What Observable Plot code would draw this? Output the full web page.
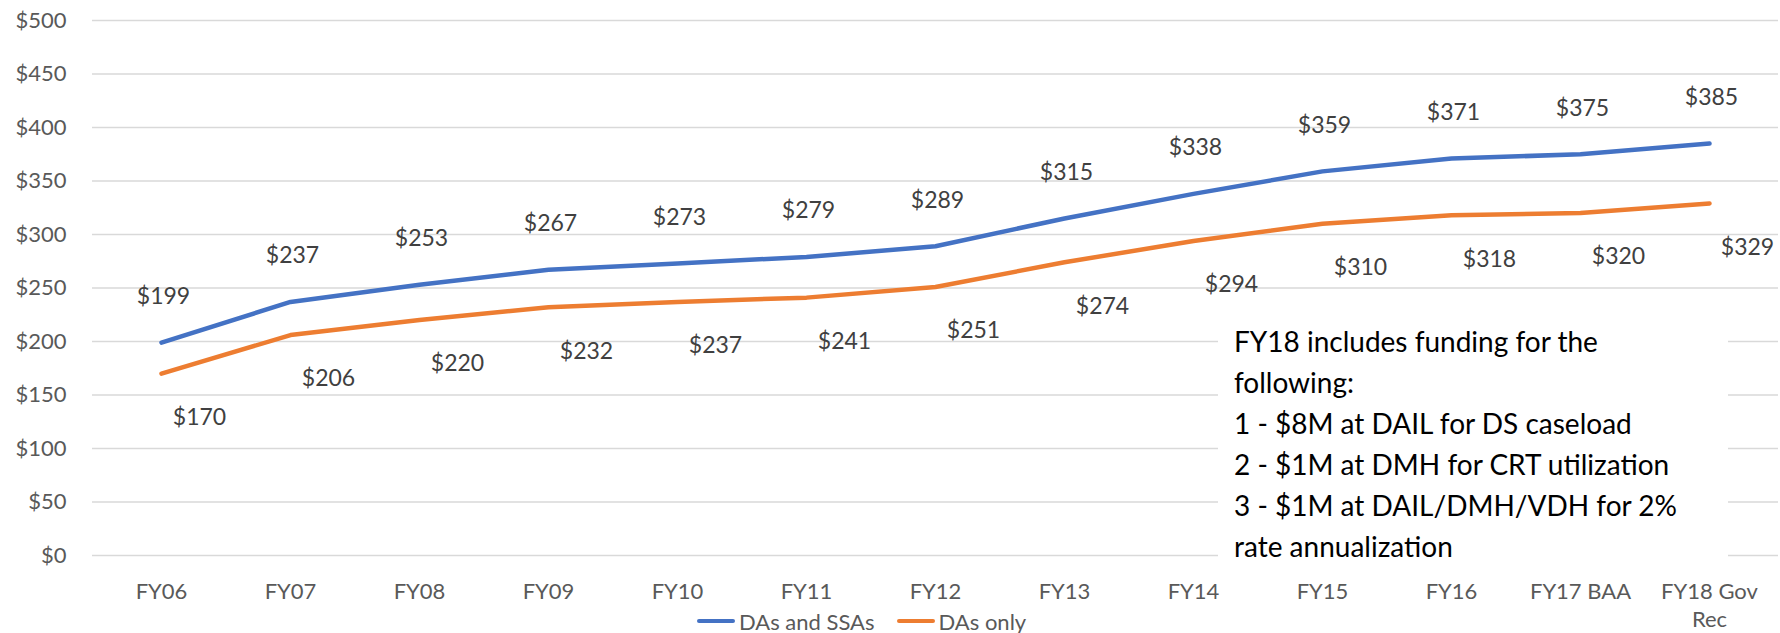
<!DOCTYPE html>
<html>
<head>
<meta charset="utf-8">
<script src="https://cdn.jsdelivr.net/npm/d3@7"></script>
<script src="https://cdn.jsdelivr.net/npm/@observablehq/plot@0.6"></script>
<style>
  body { margin: 0; background: #fff; }
  #wrap { position: relative; width: 1780px; height: 633px; font-family: Lato, "Open Sans", sans-serif; overflow: hidden; }
  #note { position: absolute; left: 1218px; top: 300px; width: 510px; height: 258px; background: #fff;
          box-sizing: border-box; padding: 21px 0 0 16px; font-size: 28px; line-height: 41px; color: #000; white-space: nowrap; }
  #legend { position: absolute; left: 697px; top: 607px; height: 28px; display: flex; align-items: center;
            font-size: 22px; color: #595959; }
  #legend .item { display: flex; align-items: center; }
  #legend .item + .item { margin-left: 22px; }
  #legend .sw { display: inline-block; width: 38px; height: 4.5px; border-radius: 2.5px; margin-right: 4px; }
</style>
</head>
<body>
<div id="wrap"></div>
<script>
// ---- data ----
const categories = ["FY06", "FY07", "FY08", "FY09", "FY10", "FY11", "FY12", "FY13", "FY14", "FY15", "FY16", "FY17 BAA", "FY18 Gov Rec"];
const dasAndSsas = [199, 237, 253, 267, 273, 279, 289, 315, 338, 359, 371, 375, 385];
const dasOnly    = [170, 206, 220, 232, 237, 241, 251, 274, 294, 310, 318, 320, 329];
const yTicks     = [0, 50, 100, 150, 200, 250, 300, 350, 400, 450, 500];
const seriesNames = ["DAs and SSAs", "DAs only"];
const noteLines = [
  "FY18 includes funding for the",
  "following:",
  "1 - $8M at DAIL for DS caseload",
  "2 - $1M at DMH for CRT utilization",
  "3 - $1M at DAIL/DMH/VDH for 2%",
  "rate annualization"
];

// ---- styles ----
const blue = "#4472C4", orange = "#ED7D31";

const rows = categories.map((c, i) => ({cat: c, a: dasAndSsas[i], b: dasOnly[i]}));
const money = v => "$" + v;
const wrapTick = d => d.replace(" Rec", "\nRec");

const chart = Plot.plot({
  width: 1780,
  height: 633,
  marginLeft: 92,
  marginRight: 2,
  marginTop: 20,
  marginBottom: 78,
  style: {fontFamily: "Lato, 'Open Sans', sans-serif", fontSize: "22px", color: "#595959", background: "#fff"},
  x: {type: "point", domain: categories, padding: 0.5, label: null},
  y: {domain: [0, 500], label: null},
  marks: [
    Plot.gridY(yTicks, {stroke: "#D9D9D9", strokeOpacity: 1, strokeWidth: 1.3}),
    Plot.axisY({ticks: yTicks, tickFormat: money, tickSize: 0, tickPadding: 26, label: null}),
    Plot.axisX({tickSize: 0, tickPadding: 23, lineHeight: 1.3, tickFormat: wrapTick, label: null}),
    Plot.line(rows, {x: "cat", y: "a", stroke: blue, strokeWidth: 4.5, strokeLinecap: "round", strokeLinejoin: "round"}),
    Plot.line(rows, {x: "cat", y: "b", stroke: orange, strokeWidth: 4.5, strokeLinecap: "round", strokeLinejoin: "round"}),
    Plot.text(rows, {x: "cat", y: "a", text: d => money(d.a), dx: 2, dy: -46, fill: "#404040", fontSize: 23}),
    Plot.text(rows, {x: "cat", y: "b", text: d => money(d.b), dx: 38, dy: 44, fill: "#404040", fontSize: 23})
  ]
});

const wrap = document.getElementById("wrap");
wrap.appendChild(chart);

const note = document.createElement("div");
note.id = "note";
note.innerHTML = noteLines.map(l => `<div>${l}</div>`).join("");
wrap.appendChild(note);

const legend = document.createElement("div");
legend.id = "legend";
legend.innerHTML = seriesNames.map((n, i) =>
  `<span class="item"><span class="sw" style="background:${[blue, orange][i]}"></span>${n}</span>`).join("");
wrap.appendChild(legend);
</script>
</body>
</html>
